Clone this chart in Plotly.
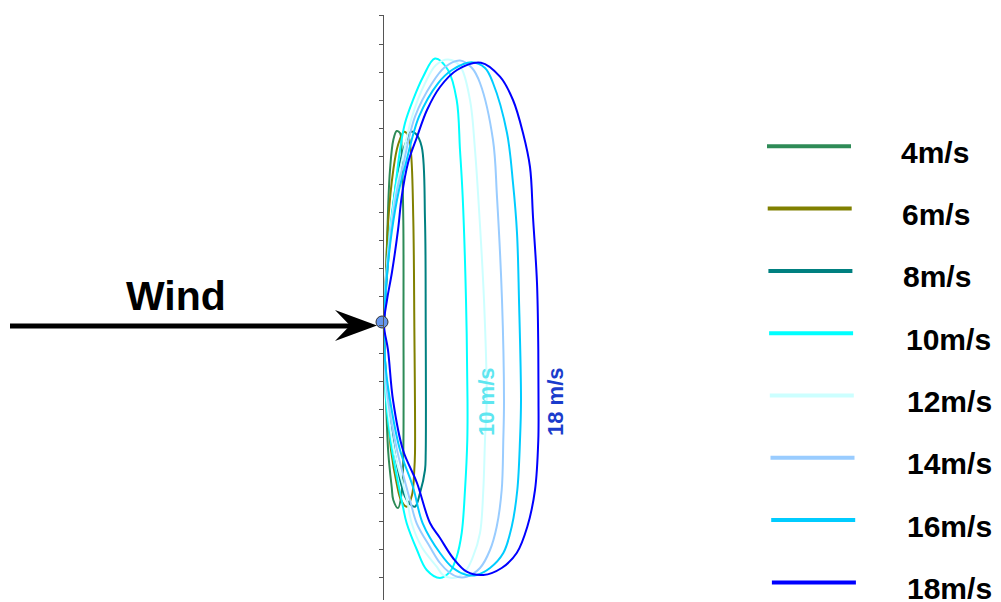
import plotly.graph_objects as go

# kite loop trajectories, x downwind / y height (relative to launch point)
speeds = ["4m/s", "6m/s", "8m/s", "10m/s", "12m/s", "14m/s", "16m/s", "18m/s"]
colors = ["#2e8b57", "#808000", "#008080", "#00ffff",
          "#ccffff", "#99ccff", "#00ccff", "#0000ff"]

x4 = [1, 2, 3.5, 5.3, 7, 10.3, 13.7, 17, 18.7, 20.3, 20.5, 20.3, 19, 15, 10.3, 8.7, 5.3, 3, 1.5, 1]
y4 = [0, 25, 65, 122, 155, 185, 194, 192, 172, 105, 5, -128, -165, -183, -175, -162, -128, -75, -25, 0]

x6 = [1, 2.5, 5.3, 10.3, 15, 21, 25, 28, 30.3, 31.3, 32, 31.3, 29, 23.7, 18, 14, 8, 4, 1.5, 1]
y6 = [0, 35, 105, 155, 180, 193.3, 190, 172, 105, 5, -128, -145, -170, -181.7, -175, -160, -125, -75, -25, 0]

x8 = [1, 3, 8.7, 15.3, 23.7, 28, 33, 38.7, 42, 42.7, 42.7, 42, 37, 32, 26, 22, 13, 6, 2, 1]
y8 = [0, 35, 105, 155, 185, 193.3, 191, 178.3, 105, 5, -128, -145, -168, -181.7, -178, -171.7, -135, -85, -35, 0]

x10 = [1, 3, 7, 12, 17, 22, 30, 40, 52, 65, 73.7, 77, 79.7, 83, 84.5, 84.3, 82, 78.7, 73.7, 67, 57,
       43.7, 34, 23.7, 20, 9, 3, 1.5, 1]
y10 = [0, 45, 95, 135, 175, 202, 225, 248, 266.5, 255, 225, 175, 128, 25, -75, -115, -165, -208, -231.7,
       -246.7, -253, -245, -225, -198.3, -182, -125, -75, -35, 0]

x12 = [1, 3, 7.5, 13, 17.7, 29, 42, 53, 65, 77, 87, 92, 95, 101, 103.7, 102, 100.3, 97, 90, 82, 70,
       60, 53.7, 38.7, 28.7, 24, 11, 4, 1.5, 1]
y12 = [0, 45, 95, 135, 158.3, 208.3, 241.7, 260, 265.5, 259, 225, 175, 132, 25, -75, -115, -165, -208,
       -231.7, -246.7, -253, -250, -241.7, -222, -198.3, -175, -125, -75, -35, 0]

x14 = [1, 3, 8, 14, 19.7, 32, 49, 62, 77, 89, 97, 110, 114, 119, 121, 120.3, 118.7, 113.7, 107, 97,
       83.7, 75, 67, 57, 47, 33.7, 27, 14, 5, 1.5, 1]
y14 = [0, 45, 95, 135, 158.3, 208.3, 241.7, 258, 264.5, 257, 242, 185, 128, 25, -75, -115, -165,
       -201.7, -225, -243, -251.7, -252, -248, -238, -222, -198.3, -175, -125, -75, -35, 0]

x16 = [1, 3.5, 9, 16, 22, 36, 55, 69, 88.7, 102, 110, 124, 130, 134, 136, 138, 137, 134.3, 128.7,
       120.3, 107, 93.7, 83.7, 70, 57, 39.7, 30, 17, 7, 2, 1]
y16 = [0, 45, 95, 135, 158.3, 208.3, 241.7, 255, 262.7, 257, 242, 192, 142, 92, 25, -75, -115, -165,
       -201.7, -228, -243, -250, -250, -243, -228, -198.3, -162, -125, -75, -35, 0]

x18 = [1, 4, 9, 15, 18.7, 25, 34, 44, 57, 74, 98, 117, 130, 140, 147, 150, 154, 155.3, 155.5, 155.3,
       152, 144.3, 133.7, 118.7, 100.3, 83.7, 70, 57, 47, 34, 20, 10, 5, 1]
y18 = [0, 25, 53, 95, 128.3, 162, 188, 215, 238, 255, 262.3, 248.3, 225, 192, 158, 108, 42, -25, -75,
       -115, -165, -201.7, -228, -243, -250, -246.7, -233, -213, -198, -158, -125, -75, -25, 0]

loops_x = [x4, x6, x8, x10, x12, x14, x16, x18]
loops_y = [y4, y6, y8, y10, y12, y14, y16, y18]

launch_x = [-1]
launch_y = [3]

# the html page puts an 8px margin round the plot, so work in page pixels minus 8
OFF = 8
W, H = 1001 - OFF, 602 - OFF
ax_px, org_py = 383, 325   # page pixel position of the origin
tick = 28.1

fig = go.Figure()
for name, c, xs, ys in zip(speeds, colors, loops_x, loops_y):
    fig.add_trace(go.Scatter(x=xs, y=ys, mode="lines", name=name,
                             line=dict(color=c, width=2, shape="spline", smoothing=1.0),
                             showlegend=False, hoverinfo="skip"))

fig.add_trace(go.Scatter(x=launch_x, y=launch_y, mode="markers", showlegend=False, hoverinfo="skip",
                         marker=dict(size=12, color="#6495ed", line=dict(color="#333333", width=1))))

font = "Liberation Sans, Arial, sans-serif"


def px(x):
    return (x - OFF) / W


def py(y):
    return 1 - (y - OFF) / H


shapes = []
annos = []

# wind arrow
shapes.append(dict(type="line", xref="x", yref="y", x0=10 - ax_px, x1=352 - ax_px, y0=-1, y1=-1,
                   line=dict(color="black", width=5)))
tip, back, notch, hw = 377 - ax_px, 335 - ax_px, 350 - ax_px, 15
shapes.append(dict(type="path", xref="x", yref="y", fillcolor="black", line=dict(width=0),
                   path=f"M{tip},-0.5 L{back},{hw} L{notch},-0.5 L{back},{-hw - 1} Z"))
annos.append(dict(text="<b>Wind</b>", x=176 - ax_px, y=org_py - 296, xref="x", yref="y",
                  showarrow=False, font=dict(family=font, size=41, color="black")))

# labels inside the loops
annos.append(dict(text="<b>10 m/s</b>", x=486 - ax_px, y=org_py - 402, xref="x", yref="y",
                  textangle=-90, showarrow=False, font=dict(family=font, size=22, color="#5ee6f0")))
annos.append(dict(text="<b>18 m/s</b>", x=555 - ax_px, y=org_py - 402, xref="x", yref="y",
                  textangle=-90, showarrow=False, font=dict(family=font, size=22, color="#1a3ccc")))

# legend drawn by hand (long line samples)
text_x = [899, 900, 901, 904, 905, 905, 905, 905]
for i, (name, c) in enumerate(zip(speeds, colors)):
    ly = 146.3 + 62.3 * i
    shapes.append(dict(type="line", xref="paper", yref="paper",
                       x0=px(767 + 0.7 * i), x1=px(851 + 0.7 * i), y0=py(ly), y1=py(ly),
                       line=dict(color=c, width=4)))
    annos.append(dict(text=f"<b>{name}</b>", x=px(text_x[i]), y=py(ly + 6), xref="paper", yref="paper",
                      xanchor="left", yanchor="middle", showarrow=False,
                      font=dict(family=font, size=30, color="black")))

fig.update_layout(
    width=W, height=H,
    margin=dict(l=0, r=0, t=0, b=0),
    paper_bgcolor="white", plot_bgcolor="white",
    shapes=shapes, annotations=annos,
    xaxis=dict(range=[OFF - ax_px, OFF + W - ax_px], domain=[0, 1], visible=False),
    yaxis=dict(range=[org_py - 600, org_py - 15],
               domain=[1 - (600 - OFF) / H, 1 - (15 - OFF) / H],
               anchor="free", position=(ax_px - OFF) / W,
               showline=True, linecolor="#555555", linewidth=1,
               ticks="outside", ticklen=4, tickcolor="#555555", tickwidth=1,
               tick0=0, dtick=tick, showticklabels=False,
               showgrid=False, zeroline=False),
)

fig.write_html("out.html")
